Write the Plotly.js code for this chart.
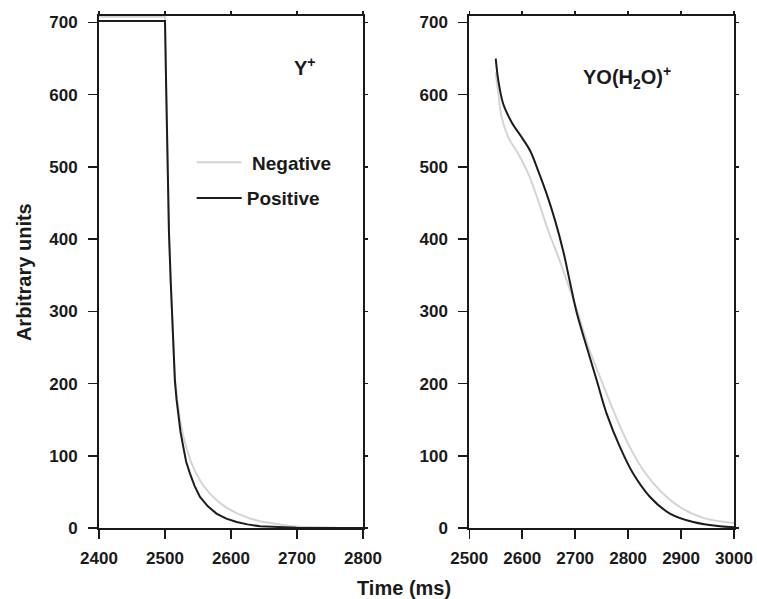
<!DOCTYPE html>
<html>
<head>
<meta charset="utf-8">
<script src="https://cdn.plot.ly/plotly-3.0.1.min.js"></script>
<style>html,body{margin:0;padding:0;background:#fff}#chart{width:757px;height:599px}</style>
</head>
<body>
<div id="chart"></div>
<script>
// Left panel: Y+
const yNegX = [2400, 2500, 2502, 2504, 2506, 2508.6, 2511.6, 2515, 2518.5, 2522.7, 2527.5, 2532.8, 2540, 2548, 2557, 2568, 2580, 2593.5, 2610, 2629, 2648, 2669, 2686, 2704.5, 2730, 2760, 2800];
const yNegV = [708, 708, 600, 500, 410, 343, 274, 208, 178, 150, 128, 110, 90, 74, 60, 47.6, 37, 28, 20, 13, 8.5, 5, 3, 1.6, 0.7, 0.2, 0];
const yPosX = [2400, 2500, 2502, 2504, 2506, 2508.6, 2511.6, 2515, 2517.5, 2520, 2523.5, 2527.8, 2532, 2538, 2545, 2553, 2565, 2578, 2593, 2608.6, 2625, 2644, 2670, 2699.5, 2740, 2800];
const yPosV = [702, 702, 600, 500, 410, 343, 274, 204, 178, 158, 133, 112, 92, 75, 58, 43, 30, 20, 13, 8.3, 5, 2.4, 1.2, 0.5, 0.1, 0];
// Right panel: YO(H2O)+
const hNegX = [2550, 2555, 2561, 2573.7, 2592.6, 2611.5, 2630, 2649, 2671, 2690, 2705, 2725, 2747, 2772, 2797, 2828.7, 2860, 2898, 2942, 3000];
const hNegV = [631, 601, 569, 541, 518, 490.6, 453.6, 412, 370, 330, 298, 250.6, 209, 163, 121, 80, 52, 29, 14, 7];
const hPosX = [2550, 2554.8, 2564, 2580, 2599, 2614.7, 2630, 2646, 2662, 2677.6, 2690, 2703, 2721.8, 2740.7, 2759.6, 2784.7, 2809.8, 2841.4, 2879, 2923, 2973.6, 3000];
const hPosV = [650, 620, 587.5, 562, 541, 522.8, 495, 463, 426, 383, 341, 298, 250.6, 204.5, 158, 112, 75, 43, 20, 8.3, 2.4, 1.2];

const leftTicks = [2400, 2500, 2600, 2700, 2800];
const rightTicks = [2500, 2600, 2700, 2800, 2900, 3000];
const yTicks = [0, 100, 200, 300, 400, 500, 600, 700];

const negColor = '#d4d4d4';
const posColor = '#1c1c1c';
const fam = 'Arial, "Liberation Sans", Helvetica, sans-serif';
const ink = '#1a1a1a';
const tickFont = {family: fam, size: 17, color: ink, weight: 'bold'};

const traces = [
  {x: yNegX, y: yNegV, xaxis: 'x', yaxis: 'y', mode: 'lines', name: ' Negative', legendgroup: 'n',
   line: {color: negColor, width: 2}},
  {x: yPosX, y: yPosV, xaxis: 'x', yaxis: 'y', mode: 'lines', name: 'Positive', legendgroup: 'p',
   line: {color: posColor, width: 2}},
  {x: hNegX, y: hNegV, xaxis: 'x2', yaxis: 'y2', mode: 'lines', name: 'Negative', showlegend: false,
   line: {color: negColor, width: 2, shape: 'spline'}},
  {x: hPosX, y: hPosV, xaxis: 'x2', yaxis: 'y2', mode: 'lines', name: 'Positive', showlegend: false,
   line: {color: posColor, width: 2, shape: 'spline'}},
  // empty traces so the mirrored short tick axes are drawn
  {x: [], y: [], xaxis: 'x3', yaxis: 'y3', mode: 'lines', showlegend: false, hoverinfo: 'skip'},
  {x: [], y: [], xaxis: 'x4', yaxis: 'y4', mode: 'lines', showlegend: false, hoverinfo: 'skip'}
];

const axBase = {showgrid: false, zeroline: false, showline: true, linecolor: ink, linewidth: 2,
  ticks: 'outside', ticklen: 9, tickwidth: 1.5, tickcolor: ink, mirror: true, tickfont: tickFont};
const mirBase = {showgrid: false, zeroline: false, showline: false, ticks: 'outside', ticklen: 4,
  tickwidth: 1.5, tickcolor: ink, showticklabels: false};

const yRange = [0, 709];
const layout = {
  width: 757, height: 599,
  margin: {l: 99, r: 23, t: 16, b: 71},
  paper_bgcolor: '#fff', plot_bgcolor: '#fff',
  font: {family: fam, color: ink},
  showlegend: true,
  legend: {x: 0.146, y: 0.751, xanchor: 'left', yanchor: 'top', bgcolor: 'rgba(0,0,0,0)',
    font: {family: fam, size: 19, color: ink, weight: 'bold'},
    traceorder: 'grouped', tracegroupgap: 8, itemwidth: 45},
  xaxis: Object.assign({}, axBase, {domain: [0, 0.4157], range: [2400, 2800], tickvals: leftTicks, anchor: 'y', ticklabelstandoff: 5}),
  yaxis: Object.assign({}, axBase, {domain: [0, 1], range: yRange, tickvals: yTicks, anchor: 'x', ticklabelstandoff: 7}),
  xaxis2: Object.assign({}, axBase, {domain: [0.5831, 1], range: [2500, 3000], tickvals: rightTicks, anchor: 'y2', ticklabelstandoff: 5}),
  yaxis2: Object.assign({}, axBase, {domain: [0, 1], range: yRange, tickvals: yTicks, anchor: 'x2', ticklabelstandoff: 7}),
  xaxis3: Object.assign({}, mirBase, {overlaying: 'x', side: 'top', anchor: 'y3', range: [2400, 2800], tickvals: leftTicks}),
  yaxis3: Object.assign({}, mirBase, {overlaying: 'y', side: 'right', anchor: 'x3', range: yRange, tickvals: yTicks}),
  xaxis4: Object.assign({}, mirBase, {overlaying: 'x2', side: 'top', anchor: 'y4', range: [2500, 3000], tickvals: rightTicks}),
  yaxis4: Object.assign({}, mirBase, {overlaying: 'y2', side: 'right', anchor: 'x4', range: yRange, tickvals: yTicks}),
  annotations: [
    {text: 'Y<sup>+</sup>', xref: 'x', yref: 'y', x: 2712, y: 639, showarrow: false,
     font: {family: fam, size: 20, color: ink, weight: 'bold'}},
    {text: 'YO(H<sub>2</sub>O)<sup>+</sup>', xref: 'x2', yref: 'y2', x: 2798, y: 624, showarrow: false,
     font: {family: fam, size: 20, color: ink, weight: 'bold'}},
    {text: 'Time (ms)', xref: 'paper', yref: 'paper', x: 0.480, y: -0.118, yanchor: 'middle', showarrow: false,
     font: {family: fam, size: 20, color: ink, weight: 'bold'}},
    {text: 'Arbitrary units', xref: 'paper', yref: 'paper', x: -0.118, y: 0.5, textangle: -90, showarrow: false,
     xanchor: 'center', yanchor: 'middle', font: {family: fam, size: 20, color: ink, weight: 'bold'}}
  ]
};

Plotly.newPlot('chart', traces, layout, {displayModeBar: false, staticPlot: true});
</script>
</body>
</html>
